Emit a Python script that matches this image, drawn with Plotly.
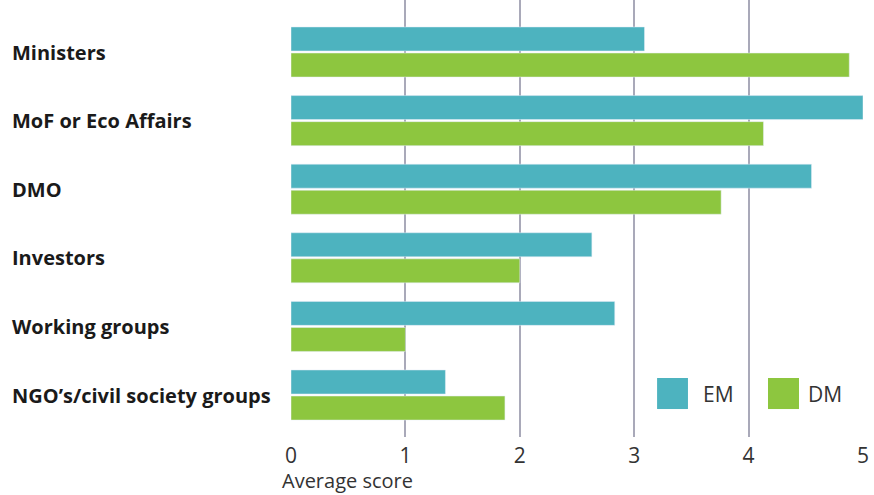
import plotly.graph_objects as go

categories = ["Ministers", "MoF or Eco Affairs", "DMO", "Investors", "Working groups", "NGO\u2019s/civil society groups"]
em_values = [3.09, 5.0, 4.55, 2.63, 2.83, 1.35]
dm_values = [4.88, 4.13, 3.76, 2.0, 1.0, 1.87]
x_ticks = [0, 1, 2, 3, 4, 5]
series_names = ["EM", "DM"]

EM_COLOR = "#4db3bf"
DM_COLOR = "#8dc63f"
FONT = "Open Sans"

fig = go.Figure()
fig.add_trace(go.Bar(y=categories, x=em_values, orientation="h", name="EM", marker_color=EM_COLOR, showlegend=False))
fig.add_trace(go.Bar(y=categories, x=dm_values, orientation="h", name="DM", marker_color=DM_COLOR, showlegend=False))

annotations = []
for c in categories:
    annotations.append(dict(x=(10 - 291) / 572, xref="paper", y=c, yref="y", text="<b>" + c + "</b>", showarrow=False,
                            xanchor="left", yanchor="middle", font=dict(family=FONT, size=20, color="#1a1a1a")))

annotations.append(dict(x=(280 - 291) / 572, xref="paper", y=(437 - 481) / 437, yref="paper", text="Average score",
                        showarrow=False, xanchor="left", yanchor="middle", font=dict(family=FONT, size=20, color="#333333")))

# manual legend
shapes = []
legend_pos = [(0.640, 0.694, 0.717), (0.8339, 0.8881, 0.9003)]
colors = [EM_COLOR, DM_COLOR]
for name, col, (x0, x1, tx) in zip(series_names, colors, legend_pos):
    shapes.append(dict(type="rect", xref="paper", yref="paper", x0=x0, x1=x1, y0=0.064, y1=0.135,
                       fillcolor=col, line_width=0, layer="above"))
    annotations.append(dict(x=tx, xref="paper", y=0.0995, yref="paper", text=name, showarrow=False,
                            xanchor="left", yanchor="middle", font=dict(family=FONT, size=21, color="#333333")))

fig.update_layout(
    width=874, height=495,
    margin=dict(l=291, r=11, t=0, b=58),
    plot_bgcolor="white", paper_bgcolor="white",
    barmode="group", bargap=0.24, bargroupgap=0.08,
    xaxis=dict(range=[0, 5], tickvals=x_ticks, showgrid=True, gridcolor="#a9a9b9", gridwidth=1.5,
               zeroline=False, showline=False, ticks="", ticklabelstandoff=4,
               tickfont=dict(family=FONT, size=21, color="#333333"), fixedrange=True),
    yaxis=dict(range=[5.612, -0.758], showticklabels=False, showgrid=False, zeroline=False),
    annotations=annotations, shapes=shapes,
)

fig.write_html("out.html")
